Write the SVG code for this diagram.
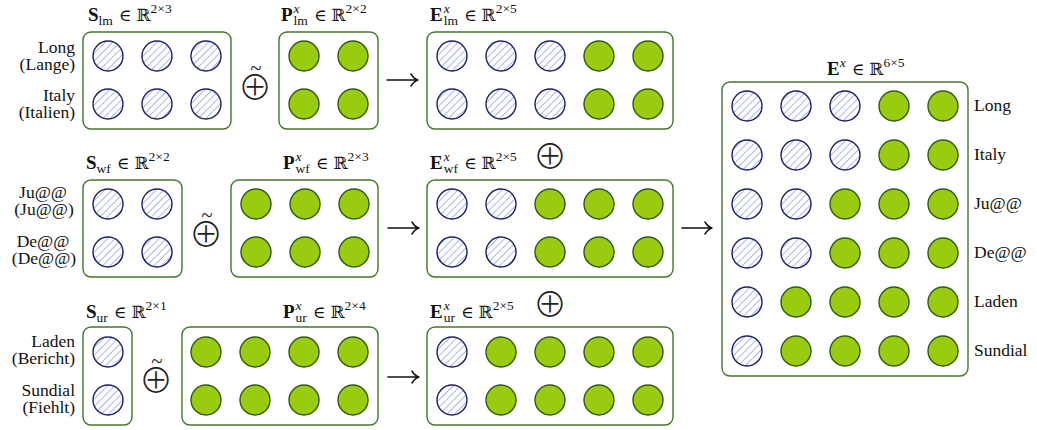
<svg xmlns="http://www.w3.org/2000/svg" width="1037" height="430" viewBox="0 0 1037 430">
<style>
.box{fill:#fff;stroke:#46762a;stroke-width:1.4}
.h{fill:url(#hatch);stroke:#1c1f6b;stroke-width:1.4}
.g{fill:#99cc0f;stroke:#2f5a10;stroke-width:1.4}
.lbl{font-family:"Liberation Serif",serif;font-size:17.5px;fill:#111}
.t{font-family:"Liberation Serif",serif;font-size:19px;fill:#111}
.s{font-size:13.5px}
.i{font-style:italic}
.b{font-weight:bold}
.m{font-family:"DejaVu Serif","Liberation Serif",serif;font-size:17px}
.op{font-family:"Noto Sans CJK JP","Noto Sans CJK SC","DejaVu Sans",sans-serif;font-size:34px;font-weight:300;fill:#222;text-anchor:middle}
.tl{font-family:"Liberation Serif",serif;font-size:21px;font-weight:normal}
.arr{fill:none;stroke:#111;stroke-width:1.5;stroke-linecap:round}
</style>
<defs>
<pattern id="hatch" patternUnits="userSpaceOnUse" width="5.2" height="5.2" patternTransform="rotate(45)">
<rect width="5.2" height="5.2" fill="#fff"/>
<line x1="0" y1="0" x2="0" y2="5.2" stroke="#7a94e8" stroke-width="1.3"/>
</pattern>
</defs>

<!-- Row 1 -->
<g id="S_lm">
<text class="t" x="88" y="21"><tspan class="b">S</tspan><tspan class="s" dy="4">lm</tspan><tspan class="m" dy="-4" dx="6">∈</tspan><tspan class="m" dx="5">ℝ</tspan><tspan class="s" dy="-8">2×3</tspan></text>
<text class="lbl" text-anchor="end" x="75" y="53">Long</text>
<text class="lbl" text-anchor="end" x="75" y="70">(Lange)</text>
<text class="lbl" text-anchor="end" x="75" y="101">Italy</text>
<text class="lbl" text-anchor="end" x="75" y="118">(Italien)</text>
<rect class="box" x="83" y="32" width="148" height="97" rx="8"/>
<circle class="h" cx="108" cy="56" r="15"/><circle class="h" cx="157" cy="56" r="15"/><circle class="h" cx="206" cy="56" r="15"/>
<circle class="h" cx="108" cy="104" r="15"/><circle class="h" cx="157" cy="104" r="15"/><circle class="h" cx="206" cy="104" r="15"/>
</g>
<g id="op_lm">
<text class="op"><tspan x="256" y="75" class="tl">~</tspan><tspan x="255" y="100">⊕</tspan></text>
</g>
<g id="P_lm">
<text class="t" x="281" y="21"><tspan class="b">P</tspan><tspan class="s i" dx="1" dy="-8">x</tspan><tspan class="s" dx="-6" dy="12">lm</tspan><tspan class="m" dx="6" dy="-4">∈</tspan><tspan class="m" dx="5">ℝ</tspan><tspan class="s" dy="-8">2×2</tspan></text>
<rect class="box" x="279" y="32" width="99" height="97" rx="8"/>
<circle class="g" cx="304" cy="56" r="15"/><circle class="g" cx="353" cy="56" r="15"/>
<circle class="g" cx="304" cy="104" r="15"/><circle class="g" cx="353" cy="104" r="15"/>
</g>
<g id="E_lm">
<text class="t" x="430" y="21"><tspan class="b">E</tspan><tspan class="s i" dx="1" dy="-8">x</tspan><tspan class="s" dx="-6" dy="12">lm</tspan><tspan class="m" dx="6" dy="-4">∈</tspan><tspan class="m" dx="5">ℝ</tspan><tspan class="s" dy="-8">2×5</tspan></text>
<rect class="box" x="427" y="32" width="246" height="97" rx="8"/>
<circle class="h" cx="452" cy="56" r="15"/><circle class="h" cx="501" cy="56" r="15"/><circle class="h" cx="550" cy="56" r="15"/><circle class="g" cx="599" cy="56" r="15"/><circle class="g" cx="648" cy="56" r="15"/>
<circle class="h" cx="452" cy="104" r="15"/><circle class="h" cx="501" cy="104" r="15"/><circle class="h" cx="550" cy="104" r="15"/><circle class="g" cx="599" cy="104" r="15"/><circle class="g" cx="648" cy="104" r="15"/>
</g>

<!-- Row 2 -->
<g id="S_wf">
<text class="t" x="86" y="169"><tspan class="b">S</tspan><tspan class="s" dy="4">wf</tspan><tspan class="m" dy="-4" dx="6">∈</tspan><tspan class="m" dx="5">ℝ</tspan><tspan class="s" dy="-8">2×2</tspan></text>
<text class="lbl" text-anchor="middle" x="43" y="198">Ju@@</text>
<text class="lbl" text-anchor="middle" x="44" y="215">(Ju@@)</text>
<text class="lbl" text-anchor="middle" x="43" y="247">De@@</text>
<text class="lbl" text-anchor="middle" x="44" y="264">(De@@)</text>
<rect class="box" x="83" y="180" width="99" height="97" rx="8"/>
<circle class="h" cx="108" cy="204" r="15"/><circle class="h" cx="157" cy="204" r="15"/>
<circle class="h" cx="108" cy="252" r="15"/><circle class="h" cx="157" cy="252" r="15"/>
</g>
<g id="op_wf">
<text class="op"><tspan x="207" y="222" class="tl">~</tspan><tspan x="206" y="247">⊕</tspan></text>
</g>
<g id="P_wf">
<text class="t" x="283" y="169"><tspan class="b">P</tspan><tspan class="s i" dx="1" dy="-8">x</tspan><tspan class="s" dx="-6" dy="12">wf</tspan><tspan class="m" dx="6" dy="-4">∈</tspan><tspan class="m" dx="5">ℝ</tspan><tspan class="s" dy="-8">2×3</tspan></text>
<rect class="box" x="231" y="180" width="147" height="97" rx="8"/>
<circle class="g" cx="256" cy="204" r="15"/><circle class="g" cx="305" cy="204" r="15"/><circle class="g" cx="354" cy="204" r="15"/>
<circle class="g" cx="256" cy="252" r="15"/><circle class="g" cx="305" cy="252" r="15"/><circle class="g" cx="354" cy="252" r="15"/>
</g>
<g id="E_wf">
<text class="t" x="430" y="169"><tspan class="b">E</tspan><tspan class="s i" dx="1" dy="-8">x</tspan><tspan class="s" dx="-6" dy="12">wf</tspan><tspan class="m" dx="6" dy="-4">∈</tspan><tspan class="m" dx="5">ℝ</tspan><tspan class="s" dy="-8">2×5</tspan></text>
<text class="op" x="550" y="169">⊕</text>
<rect class="box" x="427" y="180" width="246" height="97" rx="8"/>
<circle class="h" cx="452" cy="204" r="15"/><circle class="h" cx="501" cy="204" r="15"/><circle class="g" cx="550" cy="204" r="15"/><circle class="g" cx="599" cy="204" r="15"/><circle class="g" cx="648" cy="204" r="15"/>
<circle class="h" cx="452" cy="252" r="15"/><circle class="h" cx="501" cy="252" r="15"/><circle class="g" cx="550" cy="252" r="15"/><circle class="g" cx="599" cy="252" r="15"/><circle class="g" cx="648" cy="252" r="15"/>
</g>

<!-- Row 3 -->
<g id="S_ur">
<text class="t" x="86" y="318"><tspan class="b">S</tspan><tspan class="s" dy="4">ur</tspan><tspan class="m" dy="-4" dx="6">∈</tspan><tspan class="m" dx="5">ℝ</tspan><tspan class="s" dy="-8">2×1</tspan></text>
<text class="lbl" text-anchor="end" x="75" y="347">Laden</text>
<text class="lbl" text-anchor="end" x="75" y="364">(Bericht)</text>
<text class="lbl" text-anchor="end" x="75" y="396">Sundial</text>
<text class="lbl" text-anchor="end" x="75" y="413">(Fiehlt)</text>
<rect class="box" x="83" y="327" width="49" height="98" rx="8"/>
<circle class="h" cx="108" cy="352" r="15"/>
<circle class="h" cx="108" cy="400" r="15"/>
</g>
<g id="op_ur">
<text class="op"><tspan x="157" y="368" class="tl">~</tspan><tspan x="156" y="393">⊕</tspan></text>
</g>
<g id="P_ur">
<text class="t" x="283" y="318"><tspan class="b">P</tspan><tspan class="s i" dx="1" dy="-8">x</tspan><tspan class="s" dx="-6" dy="12">ur</tspan><tspan class="m" dx="6" dy="-4">∈</tspan><tspan class="m" dx="5">ℝ</tspan><tspan class="s" dy="-8">2×4</tspan></text>
<rect class="box" x="182" y="327" width="196" height="98" rx="8"/>
<circle class="g" cx="206" cy="352" r="15"/><circle class="g" cx="255" cy="352" r="15"/><circle class="g" cx="304" cy="352" r="15"/><circle class="g" cx="353" cy="352" r="15"/>
<circle class="g" cx="206" cy="400" r="15"/><circle class="g" cx="255" cy="400" r="15"/><circle class="g" cx="304" cy="400" r="15"/><circle class="g" cx="353" cy="400" r="15"/>
</g>
<g id="E_ur">
<text class="t" x="430" y="318"><tspan class="b">E</tspan><tspan class="s i" dx="1" dy="-8">x</tspan><tspan class="s" dx="-6" dy="12">ur</tspan><tspan class="m" dx="6" dy="-4">∈</tspan><tspan class="m" dx="5">ℝ</tspan><tspan class="s" dy="-8">2×5</tspan></text>
<text class="op" x="550" y="317">⊕</text>
<rect class="box" x="427" y="327" width="246" height="98" rx="8"/>
<circle class="h" cx="452" cy="352" r="15"/><circle class="g" cx="501" cy="352" r="15"/><circle class="g" cx="550" cy="352" r="15"/><circle class="g" cx="599" cy="352" r="15"/><circle class="g" cx="648" cy="352" r="15"/>
<circle class="h" cx="452" cy="400" r="15"/><circle class="g" cx="501" cy="400" r="15"/><circle class="g" cx="550" cy="400" r="15"/><circle class="g" cx="599" cy="400" r="15"/><circle class="g" cx="648" cy="400" r="15"/>
</g>

<!-- Output -->
<g id="E_x">
<text class="t" x="827" y="75"><tspan class="b">E</tspan><tspan class="s i" dy="-8">x</tspan><tspan class="m" dy="8" dx="6">∈</tspan><tspan class="m" dx="5">ℝ</tspan><tspan class="s" dy="-8">6×5</tspan></text>
<rect class="box" x="722" y="82" width="246" height="294" rx="8"/>
<circle class="h" cx="747" cy="106" r="15"/><circle class="h" cx="796" cy="106" r="15"/><circle class="h" cx="845" cy="106" r="15"/><circle class="g" cx="894" cy="106" r="15"/><circle class="g" cx="943" cy="106" r="15"/>
<circle class="h" cx="747" cy="155" r="15"/><circle class="h" cx="796" cy="155" r="15"/><circle class="h" cx="845" cy="155" r="15"/><circle class="g" cx="894" cy="155" r="15"/><circle class="g" cx="943" cy="155" r="15"/>
<circle class="h" cx="747" cy="204" r="15"/><circle class="h" cx="796" cy="204" r="15"/><circle class="g" cx="845" cy="204" r="15"/><circle class="g" cx="894" cy="204" r="15"/><circle class="g" cx="943" cy="204" r="15"/>
<circle class="h" cx="747" cy="253" r="15"/><circle class="h" cx="796" cy="253" r="15"/><circle class="g" cx="845" cy="253" r="15"/><circle class="g" cx="894" cy="253" r="15"/><circle class="g" cx="943" cy="253" r="15"/>
<circle class="h" cx="747" cy="302" r="15"/><circle class="g" cx="796" cy="302" r="15"/><circle class="g" cx="845" cy="302" r="15"/><circle class="g" cx="894" cy="302" r="15"/><circle class="g" cx="943" cy="302" r="15"/>
<circle class="h" cx="747" cy="351" r="15"/><circle class="g" cx="796" cy="351" r="15"/><circle class="g" cx="845" cy="351" r="15"/><circle class="g" cx="894" cy="351" r="15"/><circle class="g" cx="943" cy="351" r="15"/>
<text class="lbl" x="974" y="111">Long</text>
<text class="lbl" x="974" y="160">Italy</text>
<text class="lbl" x="974" y="209">Ju@@</text>
<text class="lbl" x="974" y="258">De@@</text>
<text class="lbl" x="974" y="307">Laden</text>
<text class="lbl" x="974" y="356">Sundial</text>
</g>

<g id="connectors">
<path class="arr" d="M387 80 H418 M411 74 Q414 79 418 80 Q414 81 411 86"/>
<path class="arr" d="M388 228 H419 M412 222 Q415 227 419 228 Q415 229 412 234"/>
<path class="arr" d="M388 377 H419 M412 371 Q415 376 419 377 Q415 378 412 383"/>
<path class="arr" d="M682 228 H712 M705 222 Q708 227 712 228 Q708 229 705 234"/>
</g>
</svg>
